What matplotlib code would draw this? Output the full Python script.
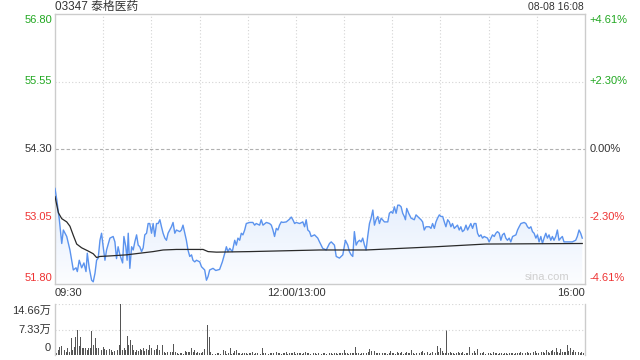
import matplotlib
matplotlib.use('Agg')
import matplotlib.pyplot as plt
import numpy as np
from matplotlib.colors import LinearSegmentedColormap

plt.rcParams['font.family'] = ['Liberation Sans', 'Noto Sans CJK SC', 'DejaVu Sans']

title = "03347 泰格医药"
stamp = "08-08 16:08"
prev_close = 54.30
price_ticks = [56.80, 55.55, 54.30, 53.05, 51.80]
price_labels = ["56.80", "55.55", "54.30", "53.05", "51.80"]
pct_labels = ["+4.61%", "+2.30%", "0.00%", "-2.30%", "-4.61%"]
label_colors = ['#22a822', '#22a822', '#333333', '#ee3333', '#ee3333']
time_ticks = [0, 150, 330]
time_labels = ["09:30", "12:00/13:00", "16:00"]
vol_ticks = [14.66, 7.33, 0]
vol_labels = ["14.66万", "7.33万", "0"]

# trading minutes since 09:30 (lunch break removed)
minutes = [0, 1.1, 2.7, 4.2, 5.2, 7.3, 9.3, 11.4, 13.1, 13.9,
           15.1, 16.6, 18.0, 19.3, 20.1, 21.3, 22.8, 23.8, 24.9, 25.9,
           26.9, 28.0, 29.0, 30.0, 31.1, 32.1, 34.2, 36.2, 37.3, 38.3,
           39.3, 40.4, 42.1, 42.9, 44.1, 44.9, 45.6, 46.6, 47.7, 48.7,
           49.7, 50.8, 51.8, 52.8, 53.9, 54.9, 55.9, 57.0, 58.0, 59.0,
           60.1, 61.1, 62.1, 63.2, 64.2, 65.3, 66.3, 67.3, 68.4, 69.4,
           70.4, 72.5, 73.5, 74.6, 75.6, 77.7, 78.7, 79.7, 80.8, 81.8,
           82.8, 83.9, 85.0, 85.9, 87.0, 88.1, 90.1, 91.2, 92.2, 93.2,
           94.3, 95.3, 96.3, 98.4, 100.1, 102.5, 104.2, 105.7, 106.7, 107.7,
           108.8, 110.4, 111.9, 112.9, 113.9, 115.0, 116.0, 117.0, 118.1, 119.1,
           121.2, 123.2, 124.3, 125.3, 127.4, 128.4, 129.5, 131.6, 133.6, 134.7,
           135.7, 136.7, 137.8, 138.8, 139.8, 140.9, 141.9, 144.0, 146.0, 147.1,
           148.1, 149.2, 150.2, 152.3, 154.3, 155.4, 156.4, 157.4, 158.5, 159.5,
           161.6, 163.6, 164.7, 166.7, 168.9, 170.9, 172.0, 174.0, 175.1, 177.1,
           179.2, 180.8, 182.3, 183.3, 184.4, 185.4, 186.4, 187.5, 188.5, 189.6,
           190.6, 191.6, 192.7, 193.7, 194.7, 195.8, 196.8, 197.9, 198.9, 199.9,
           201.0, 202.0, 203.1, 205.1, 207.2, 208.2, 209.3, 210.3, 211.3, 212.4,
           213.4, 214.4, 215.5, 216.5, 217.5, 218.2, 219.0, 220.2, 221.7, 223.7,
           224.8, 226.8, 227.9, 228.9, 229.9, 231.0, 233.1, 234.1, 235.1, 236.2,
           237.2, 238.2, 239.3, 240.3, 241.4, 242.4, 243.4, 244.5, 245.5, 246.5,
           247.5, 248.6, 249.6, 250.6, 251.7, 252.7, 253.7, 254.8, 255.9, 256.9,
           257.9, 258.9, 260.0, 261.0, 262.1, 263.1, 264.1, 265.2, 266.2, 267.2,
           269.3, 270.3, 271.4, 272.4, 273.5, 274.5, 275.5, 276.6, 277.6, 278.6,
           279.7, 280.7, 281.7, 282.8, 283.8, 284.9, 287.0, 288.0, 289.0, 290.1,
           292.1, 293.2, 294.2, 295.2, 296.3, 297.3, 298.3, 299.4, 300.4, 301.4,
           302.5, 303.5, 304.5, 305.6, 306.6, 307.6, 308.7, 309.7, 310.7, 311.8,
           312.8, 313.8, 314.9, 315.9, 316.9, 318.0, 320.1, 322.1, 324.2, 325.2,
           326.3, 327.3, 328.3]

prices = [53.57, 53.36, 52.99, 52.55, 52.80, 52.68, 52.43, 52.06, 52.10, 52.03,
          52.24, 52.10, 52.19, 52.03, 52.37, 52.10, 51.87, 51.84, 52.00, 52.24,
          52.28, 52.61, 52.74, 52.49, 52.24, 52.43, 52.65, 52.68, 52.58, 52.27,
          52.49, 52.34, 52.19, 52.68, 52.49, 52.24, 52.74, 52.09, 52.49, 52.43,
          52.58, 52.71, 52.52, 52.49, 52.40, 52.47, 52.71, 52.74, 52.92, 52.92,
          52.74, 52.92, 52.68, 52.92, 52.92, 52.99, 52.86, 52.74, 52.65, 52.61,
          52.74, 52.86, 52.94, 52.74, 52.80, 52.77, 52.80, 52.89, 52.74, 52.61,
          52.43, 52.31, 52.34, 52.24, 52.21, 52.24, 52.21, 52.12, 52.09, 52.06,
          51.87, 51.94, 52.06, 52.09, 52.05, 52.07, 52.21, 52.37, 52.49, 52.40,
          52.46, 52.40, 52.61, 52.52, 52.65, 52.61, 52.74, 52.71, 52.80, 52.92,
          52.94, 52.94, 52.89, 52.92, 52.89, 52.99, 52.89, 52.94, 52.92, 52.89,
          52.80, 52.68, 52.83, 52.80, 52.89, 52.95, 52.94, 52.95, 53.00, 53.04,
          52.99, 52.92, 52.94, 52.92, 52.95, 52.86, 52.99, 52.80, 52.77, 52.68,
          52.71, 52.65, 52.58, 52.46, 52.43, 52.55, 52.58, 52.52, 52.31, 52.28,
          52.34, 52.61, 52.52, 52.40, 52.34, 52.31, 52.77, 52.52, 52.58, 52.61,
          52.58, 52.65, 52.52, 52.43, 52.68, 52.92, 53.02, 53.17, 52.89, 52.99,
          53.05, 52.92, 53.02, 52.95, 52.95, 53.11, 53.14, 53.11, 53.23, 53.11,
          53.26, 53.26, 53.23, 53.11, 53.05, 52.99, 53.20, 53.11, 53.02, 52.99,
          53.08, 53.02, 52.99, 52.95, 52.80, 52.86, 52.86, 52.83, 52.92, 52.83,
          52.95, 53.02, 53.08, 53.05, 53.05, 52.95, 52.86, 52.99, 52.95, 52.86,
          52.92, 52.83, 52.86, 52.89, 52.80, 52.86, 52.77, 52.80, 52.89, 52.80,
          52.86, 52.92, 52.83, 52.92, 52.92, 52.74, 52.68, 52.71, 52.65, 52.68,
          52.65, 52.58, 52.65, 52.71, 52.68, 52.74, 52.77, 52.74, 52.61, 52.71,
          52.74, 52.65, 52.61, 52.65, 52.58, 52.68, 52.71, 52.80, 52.86, 52.92,
          52.94, 52.92, 52.86, 52.83, 52.86, 52.77, 52.74, 52.65, 52.71, 52.58,
          52.68, 52.55, 52.65, 52.74, 52.65, 52.71, 52.61, 52.68, 52.61, 52.68,
          52.80, 52.61, 52.65, 52.68, 52.58, 52.58, 52.58, 52.58, 52.61, 52.68,
          52.80, 52.74, 52.65]

avg_minutes = [0, 2.1, 4.2, 7.3, 9.3, 11.4, 13.5, 16.6, 20.7, 23.8, 25.9, 28.0,
               34.2, 44.6, 52.8, 61.1, 67.3, 75.6, 92.2, 95.3, 100.5, 121.2,
               164.7, 193.7, 237.2, 268.3, 328.3]
avg_prices = [53.42, 53.12, 53.01, 52.95, 52.87, 52.70, 52.54, 52.47, 52.41, 52.36,
              52.29, 52.31, 52.32, 52.34, 52.37, 52.40, 52.43, 52.44, 52.44, 52.40,
              52.39, 52.40, 52.43, 52.43, 52.49, 52.54, 52.55]

# volume per minute, in 万 shares
volumes = [0.8, 0.6, 1.5, 2.4, 2.7, 2.4, 1.4, 1.0, 2.1, 1.0,
           4.9, 1.4, 2.4, 5.2, 7.1, 2.7, 5.2, 1.9, 1.9, 2.1,
           1.4, 2.1, 2.1, 6.9, 2.8, 4.75, 2.1, 1.9, 1.9, 1.4,
           2.4, 1.6, 1.4, 1.1, 1.6, 1.4, 0.9, 1.1, 0.8, 1.4,
           3.0, 14.66, 1.4, 1.9, 1.4, 5.4, 3.0, 4.3, 2.8, 1.4,
           0.9, 1.4, 1.1, 1.7, 1.4, 2.1, 1.1, 1.7, 1.4, 2.8,
           2.1, 0.9, 1.4, 1.7, 2.8, 1.4, 0.8, 2.8, 0.9, 0.7,
           0.9, 0.8, 0.8, 0.9, 3.3, 0.8, 0.5, 0.4, 0.5, 0.5,
           0.4, 1.1, 0.8, 0.9, 0.8, 2.1, 0.9, 1.4, 0.5, 0.8,
           0.5, 0.7, 0.9, 1.6, 1.7, 8.5, 5.2, 0.8, 0.4, 0.5,
           0.4, 0.7, 0.5, 0.4, 1.9, 1.4, 1.1, 0.4, 0.7, 1.9,
           0.4, 0.7, 1.1, 1.4, 0.5, 0.7, 0.4, 0.7, 0.5, 0.6,
           0.4, 0.7, 0.5, 0.8, 0.4, 0.6, 0.5, 0.7, 0.4, 1.9,
           0.6, 0.5, 0.8, 0.4, 0.7, 0.5, 0.6, 0.4, 1.0, 0.5,
           0.7, 0.4, 0.6, 0.5, 0.8, 0.4, 0.6, 0.5, 0.7, 0.8,
           0.4, 0.6, 0.5, 0.7, 0.4, 0.6, 0.8, 0.5, 0.6, 0.4,
           0.7, 0.5, 0.6, 0.4, 0.5, 0.6, 0.4, 0.5, 0.7, 0.4,
           0.6, 0.5, 0.7, 0.4, 0.6, 0.5, 0.4, 0.6, 0.5, 0.7,
           1.4, 0.5, 0.6, 0.4, 0.7, 0.5, 0.6, 2.4, 0.5, 0.6,
           0.4, 0.7, 0.6, 1.4, 0.5, 0.8, 1.7, 1.1, 2.7, 1.1,
           0.6, 0.5, 0.7, 0.4, 0.6, 0.5, 0.7, 0.4, 0.6, 1.1,
           0.5, 0.6, 0.4, 0.9, 0.5, 0.6, 0.9, 0.4, 0.6, 0.9,
           0.5, 0.6, 1.4, 0.5, 0.4, 0.6, 0.5, 0.7, 0.9, 1.1,
           0.5, 0.6, 0.9, 0.4, 0.7, 0.9, 0.5, 0.6, 2.7, 0.8,
           1.9, 1.1, 0.6, 0.5, 7.1, 0.6, 0.8, 0.5, 0.6, 0.4,
           0.7, 0.9, 0.5, 0.6, 0.8, 0.4, 0.6, 0.5, 2.4, 0.6,
           0.5, 1.1, 0.6, 1.7, 0.9, 0.5, 0.6, 0.8, 0.4, 0.6,
           0.5, 0.6, 0.4, 0.8, 0.5, 0.6, 0.4, 0.5, 0.6, 0.4,
           0.5, 0.6, 0.4, 0.5, 0.6, 0.5, 0.4, 0.6, 0.5, 0.6,
           0.8, 0.5, 0.6, 0.7, 0.9, 0.6, 0.7, 0.5, 0.8, 1.1,
           0.7, 0.6, 1.1, 0.8, 0.9, 0.7, 1.4, 0.8, 0.6, 1.1,
           1.4, 0.8, 1.9, 0.9, 0.7, 1.7, 1.0, 0.8, 0.9, 3.0,
           1.2, 1.9, 0.8, 1.4, 0.9, 0.7, 0.8, 0.6, 0.9, 0.7,
           0.8]

W, H = 640, 360
fig = plt.figure(figsize=(W / 100, H / 100), dpi=100)
fig.patch.set_facecolor('white')

GRID = '#d4d4d4'
FRAME = '#cccccc'
TXT = '#333333'

# ---------------- price panel ----------------
ax = fig.add_axes([55 / W, 76 / H, 530 / W, 270 / H])
ymin, ymax = price_ticks[-1], price_ticks[0]
n = min(len(minutes), len(prices))
poly = ax.fill_between(minutes[:n], prices[:n], ymin, color='none', lw=0)
grad = np.linspace(1, 0, 256).reshape(-1, 1)
cmap = LinearSegmentedColormap.from_list('g', ['#fcfdff', '#e6effd'])
im = ax.imshow(grad, extent=[0, 330, ymin, 53.3], aspect='auto', cmap=cmap,
               origin='upper', zorder=1, interpolation='bilinear')
im.set_clip_path(poly.get_paths()[0], transform=ax.transData)

for t in range(30, 330, 30):
    ax.axvline(t, color=GRID, lw=0.8, ls=(0, (1, 2)), zorder=0.5)
for p in price_ticks[1:-1]:
    if abs(p - prev_close) < 1e-6:
        ax.axhline(p, color='#b0b0b0', lw=0.8, ls=(0, (3, 2)), zorder=0.5)
    else:
        ax.axhline(p, color=GRID, lw=0.8, ls=(0, (1, 2)), zorder=0.5)

ax.plot(minutes[:n], prices[:n], color='#5b93ee', lw=1.0, zorder=3)
ax.plot(avg_minutes, avg_prices, color='#2a2a2a', lw=0.9, zorder=4)

ax.set_xlim(0, 330)
ax.set_ylim(ymin, ymax)
ax.set_xticks([])
ax.set_yticks([])
for s in ax.spines.values():
    s.set_color(FRAME)
    s.set_linewidth(1.0)

for i, (p, lab, pl, c) in enumerate(zip(price_ticks, price_labels, pct_labels, label_colors)):
    va = 'top' if i == 0 else ('bottom' if i == len(price_ticks) - 1 else 'center')
    dy = -1 if i == 0 else (1 if i == len(price_ticks) - 1 else 0)
    ax.annotate(lab, xy=(0, p), xycoords=('axes fraction', 'data'),
                xytext=(-2, dy), textcoords='offset points',
                ha='right', va=va, fontsize=8, color=c)
    ax.annotate(pl, xy=(1, p), xycoords=('axes fraction', 'data'),
                xytext=(3.5, dy), textcoords='offset points',
                ha='left', va=va, fontsize=8, color=c)

has = ['left', 'center', 'right']
for t, lab, ha in zip(time_ticks, time_labels, has):
    ax.annotate(lab, xy=(t, 0), xycoords=('data', 'axes fraction'),
                xytext=(0, -3), textcoords='offset points',
                ha=ha, va='top', fontsize=8, color=TXT)

ax.text(0.97, 0.008, 'sina.com', transform=ax.transAxes, ha='right', va='bottom',
        fontsize=8, color='#cfcfcf', zorder=5)

fig.text(55 / W, 1 - 7 / H, title, ha='left', va='center', fontsize=8.5, color=TXT)
fig.text(584 / W, 1 - 7.5 / H, stamp, ha='right', va='center', fontsize=7.5, color=TXT)

# ---------------- volume panel ----------------
axv = fig.add_axes([55 / W, 5 / H, 530 / W, 51 / H])
axv.bar(np.arange(len(volumes)), volumes, width=0.55, color='#555555', lw=0)
axv.set_xlim(0, 330)
axv.set_ylim(0, vol_ticks[0])
axv.axhline(vol_ticks[0], color=GRID, lw=0.8, ls=(0, (1, 2)))
axv.axhline(vol_ticks[1], color=GRID, lw=0.8, ls=(0, (1, 2)))
axv.set_xticks([])
axv.set_yticks([])
for k, s in axv.spines.items():
    if k in ('left', 'right'):
        s.set_color(FRAME)
        s.set_linewidth(1.0)
    else:
        s.set_visible(False)

vol_y = [311, 330, 348]
for lab, y in zip(vol_labels, vol_y):
    fig.text(51 / W, 1 - y / H, lab, ha='right', va='center', fontsize=8, color=TXT)

fig.savefig('out.png', dpi=100, facecolor='white')
